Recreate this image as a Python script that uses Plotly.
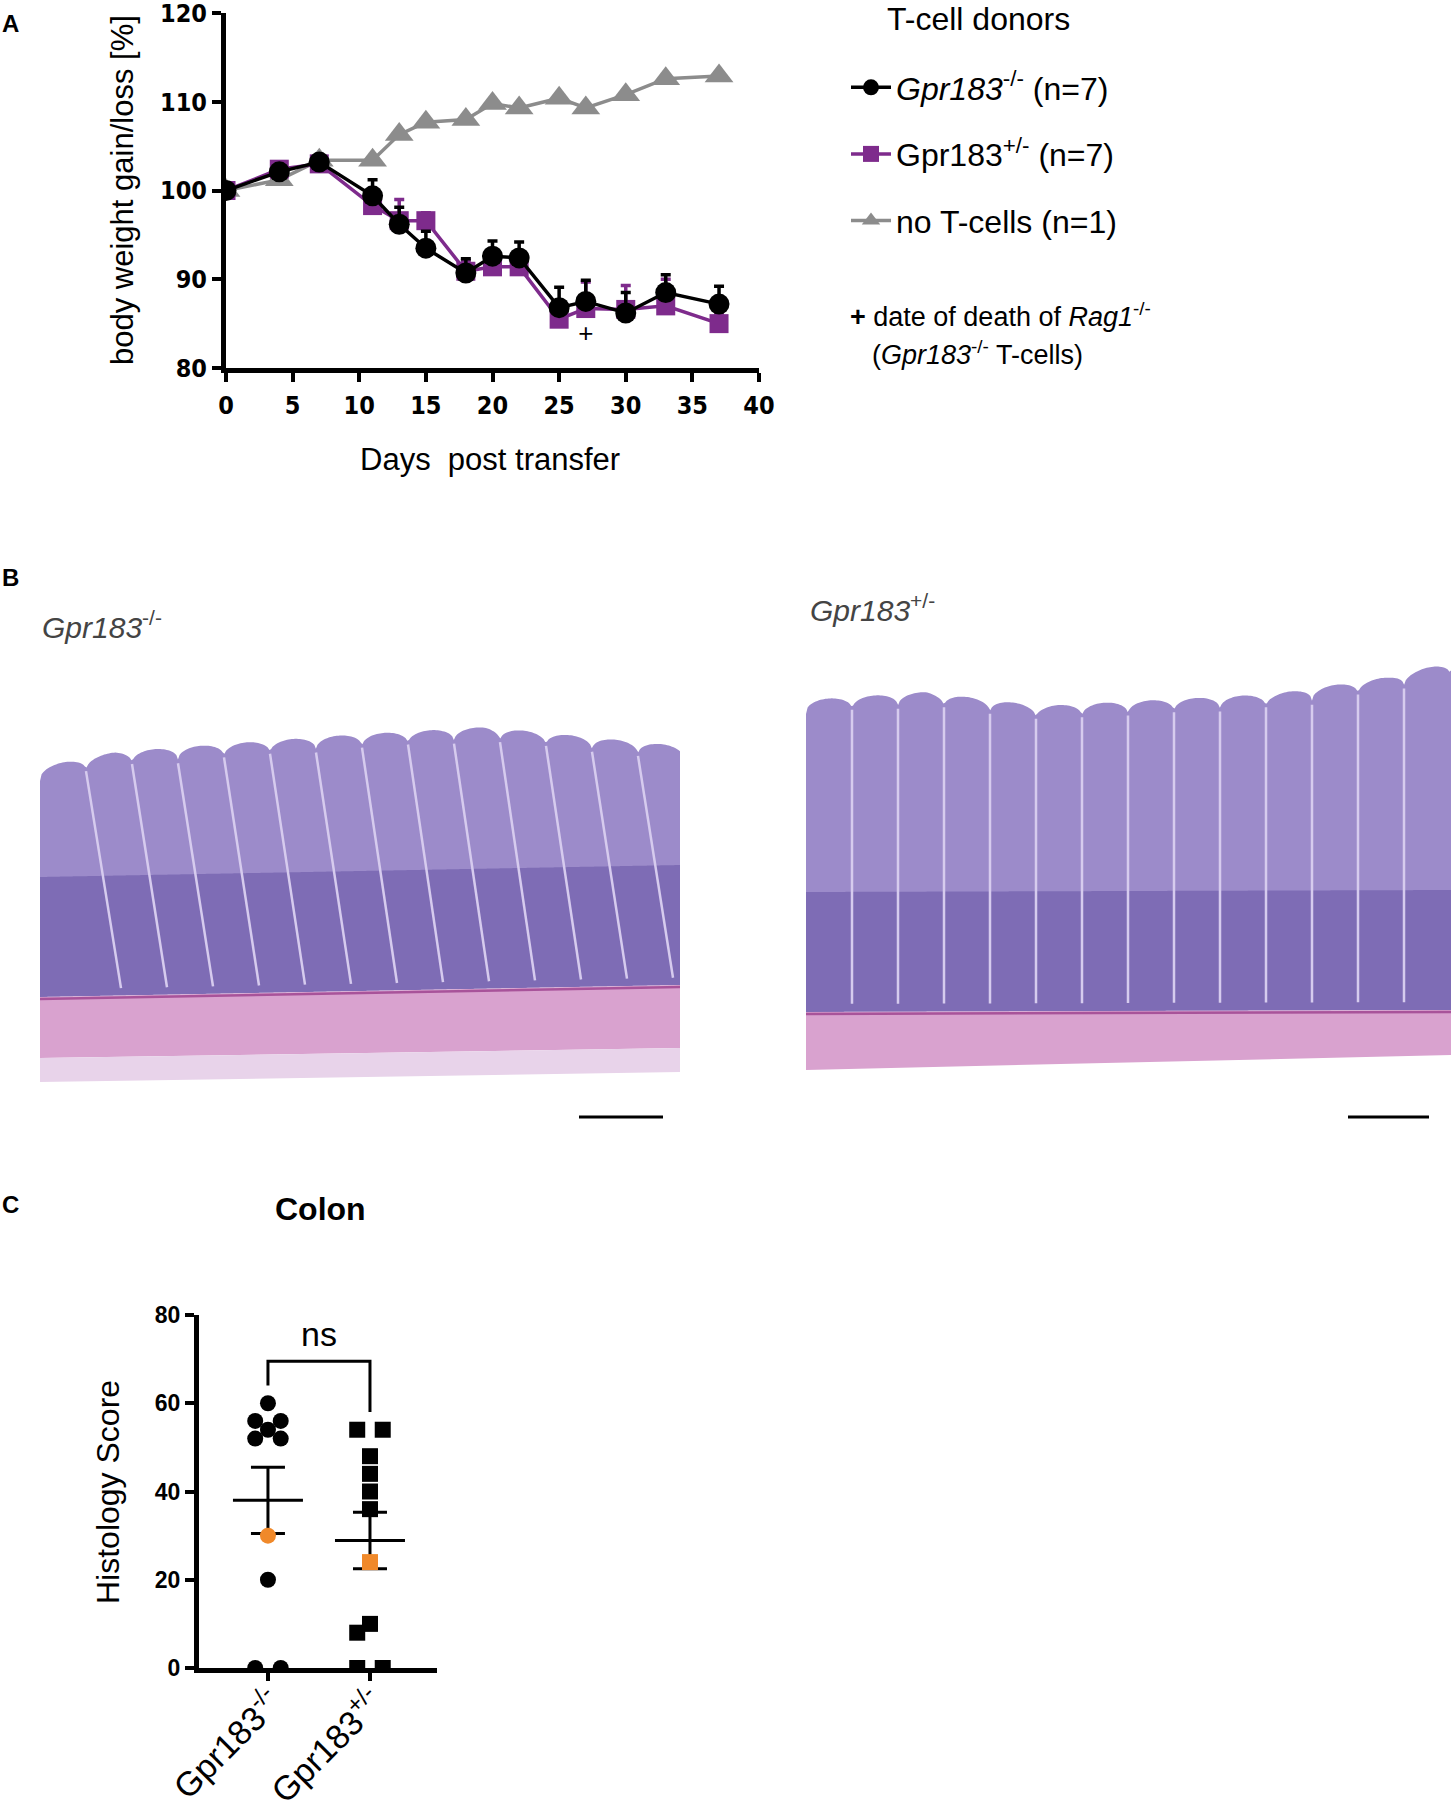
import numpy as np
import plotly.graph_objects as go

W, H = 1451, 1813
FONT = "Liberation Sans, Arial, Helvetica, sans-serif"
NARROW = "Liberation Sans Narrow, DejaVu Sans Condensed, Arial Narrow, sans-serif"

# ---- panel A: body weight after T-cell transfer (% of day 0)
days = [0, 4, 7, 11, 13, 15, 18, 20, 22, 25, 27, 30, 33, 37]
ko_mean = [100, 102.1, 103.2, 99.4, 96.2, 93.5, 90.7, 92.6, 92.4, 86.8, 87.5, 86.2, 88.5, 87.2]
ko_sem = [0.3, 0.5, 0.4, 1.8, 1.9, 1.9, 1.6, 1.7, 1.8, 2.3, 2.4, 2.3, 2.0, 2.0]
het_mean = [100, 102.4, 103.0, 98.3, 96.6, 96.6, 90.9, 91.4, 91.4, 85.5, 86.7, 86.6, 87.0, 85.0]
het_sem = [0.3, 0.5, 0.4, 1.3, 2.4, 0.9, 1.2, 1.4, 1.4, 1.8, 3.0, 2.7, 3.0, 1.2]
none_mean = [100, 101.2, 103.4, 103.4, 106.3, 107.7, 108.0, 109.8, 109.3, 110.4, 109.3, 110.8, 112.6, 112.9]
death_days = [27]

# ---- panel C: colon histology scores
group_labels = ["Gpr183<sup>-/-</sup>", "Gpr183<sup>+/-</sup>"]
ko_score = [60, 56, 56, 54, 52, 52, 30, 20, 0, 0]
het_score = [54, 54, 48, 44, 40, 36, 24, 10, 8, 0, 0]
ko_marked = [30]
het_marked = [24]

BLACK = "#000000"
PURPLE = "#7e2b8c"
GREY = "#8c8c8c"
ORANGE = "#f0892a"


def px(x):
    return x / W


def py(y):
    return 1 - y / H


def swarm(values, step=0.125, ypx=4.4, xpx=102, d=15):
    # simple beeswarm: pairs of equal values go either side of the centre
    order = sorted(range(len(values)), key=lambda i: -values[i])
    placed = []
    off = [0.0] * len(values)
    for i in order:
        v = values[i]
        ks = [-1, 1, -2, 2, -3, 3] if values.count(v) > 1 else [0, -1, 1, -2, 2, -3, 3]
        for k in ks:
            if all(((k - kk) * step * xpx) ** 2 + ((v - vv) * ypx) ** 2 >= d * d for kk, vv in placed):
                break
        placed.append((k, v))
        off[i] = k * step
    return off


fig = go.Figure()

# panel A traces (drawn grey -> purple -> black so black sits on top)
fig.add_trace(go.Scatter(x=days, y=none_mean, mode="lines+markers", name="no T-cells (n=1)",
                         line=dict(color=GREY, width=3.5),
                         marker=dict(symbol="triangle-up", size=25, color=GREY),
                         legendrank=3, legendgroup="none", xaxis="x", yaxis="y"))
fig.add_trace(go.Scatter(x=days, y=het_mean, mode="lines+markers", name="Gpr183<sup>+/-</sup> (n=7)",
                         line=dict(color=PURPLE, width=3.5),
                         marker=dict(symbol="square", size=19, color=PURPLE),
                         error_y=dict(type="data", array=het_sem, arrayminus=[0] * len(days),
                                      color=PURPLE, thickness=3.5, width=5),
                         legendrank=2, legendgroup="het", xaxis="x", yaxis="y"))
fig.add_trace(go.Scatter(x=days, y=ko_mean, mode="lines+markers", name="<i>Gpr183</i><sup>-/-</sup> (n=7)",
                         line=dict(color=BLACK, width=3.5),
                         marker=dict(symbol="circle", size=21, color=BLACK),
                         error_y=dict(type="data", array=ko_sem, arrayminus=[0] * len(days),
                                      color=BLACK, thickness=3.5, width=5),
                         legendrank=1, legendgroup="ko", xaxis="x", yaxis="y"))
death_y = [min(ko_mean[days.index(d)], het_mean[days.index(d)]) - 3 for d in death_days]
fig.add_trace(go.Scatter(x=death_days, y=death_y, mode="text", text=["+"] * len(death_days),
                         textfont=dict(size=26, color=BLACK, family=FONT), showlegend=False,
                         xaxis="x", yaxis="y"))

# panel C traces
for gi, (scores, marked, sym) in enumerate([(ko_score, ko_marked, "circle"),
                                            (het_score, het_marked, "square")]):
    off = swarm(scores)
    arr = np.array(scores, dtype=float)
    mean = arr.mean()
    sem = arr.std(ddof=1) / np.sqrt(len(arr))
    fig.add_trace(go.Scatter(x=[gi], y=[mean], mode="markers", showlegend=False,
                             marker=dict(symbol="line-ew", size=50, line=dict(width=3, color=BLACK)),
                             error_y=dict(type="data", array=[sem], color=BLACK, thickness=3, width=17),
                             xaxis="x2", yaxis="y2"))
    xs = [gi + o for o, v in zip(off, scores) if v not in marked]
    ys = [v for v in scores if v not in marked]
    fig.add_trace(go.Scatter(x=xs, y=ys, mode="markers", showlegend=False,
                             marker=dict(symbol=sym, size=16, color=BLACK),
                             xaxis="x2", yaxis="y2"))
    xs = [gi + o for o, v in zip(off, scores) if v in marked]
    ys = [v for v in scores if v in marked]
    fig.add_trace(go.Scatter(x=xs, y=ys, mode="markers", showlegend=False,
                             marker=dict(symbol=sym, size=16, color=ORANGE),
                             xaxis="x2", yaxis="y2"))

top = max(max(ko_score), max(het_score)) + 9.5
fig.add_trace(go.Scatter(x=[0, 0, 1, 1], y=[max(ko_score) + 4, top, top, max(het_score) + 4],
                         mode="lines", line=dict(color=BLACK, width=3), showlegend=False,
                         xaxis="x2", yaxis="y2"))
fig.add_annotation(x=0.5, y=top + 1.5, xref="x2", yref="y2", text="ns", showarrow=False,
                   yanchor="bottom", font=dict(size=34, color=BLACK, family=FONT))

# ---- panel B: histology sections sketched as shapes
shapes = []


def tissue(x0, x1, top_x, top_y, muc_bot, mus_bot, lean, ser_bot=None):
    period = 46
    xs = np.linspace(x0, x1, 400)
    base = np.interp(xs, top_x, top_y)
    bump = 14 * np.abs(np.sin(np.pi * (xs - x0) / period)) ** 0.35
    ytop = base + 14 - bump
    mb = np.linspace(muc_bot[0], muc_bot[1], 400)
    path = "M " + " L ".join(f"{px(a):.5f},{py(b):.5f}" for a, b in zip(xs, ytop))
    path += " L " + " L ".join(f"{px(a):.5f},{py(b):.5f}" for a, b in zip(xs[::-1], mb[::-1])) + " Z"
    shapes.append(dict(type="path", path=path, xref="paper", yref="paper",
                       fillcolor="#9c8bca", line=dict(width=0), layer="below"))
    # darker crypt bases
    path = "M " + " L ".join(f"{px(a):.5f},{py(b - 120):.5f}" for a, b in zip(xs, mb))
    path += " L " + " L ".join(f"{px(a):.5f},{py(b):.5f}" for a, b in zip(xs[::-1], mb[::-1])) + " Z"
    shapes.append(dict(type="path", path=path, xref="paper", yref="paper",
                       fillcolor="#5a479c", opacity=0.45, line=dict(width=0), layer="below"))
    # crypt borders
    for cx in np.arange(x0 + period, x1 - 10, period):
        t = float(np.interp(cx, xs, ytop))
        b = float(np.interp(cx, xs, mb)) - 8
        x_end = min(cx + lean, x1 - 2)
        shapes.append(dict(type="line", xref="paper", yref="paper",
                           x0=px(cx), y0=py(t + 4), x1=px(x_end), y1=py(b),
                           line=dict(color="#d6cbee", width=2.5), layer="below"))
    # muscle layer
    path = (f"M {px(x0)},{py(muc_bot[0])} L {px(x1)},{py(muc_bot[1])} "
            f"L {px(x1)},{py(mus_bot[1])} L {px(x0)},{py(mus_bot[0])} Z")
    shapes.append(dict(type="path", path=path, xref="paper", yref="paper",
                       fillcolor="#d9a2cf", line=dict(width=0), layer="below"))
    shapes.append(dict(type="line", xref="paper", yref="paper", x0=px(x0), y0=py(muc_bot[0] + 2),
                       x1=px(x1), y1=py(muc_bot[1] + 2), line=dict(color="#a8539a", width=2.5),
                       layer="below"))
    if ser_bot is not None:
        path = (f"M {px(x0)},{py(mus_bot[0])} L {px(x1)},{py(mus_bot[1])} "
                f"L {px(x1)},{py(ser_bot[1])} L {px(x0)},{py(ser_bot[0])} Z")
        shapes.append(dict(type="path", path=path, xref="paper", yref="paper",
                           fillcolor="#e8d3ea", line=dict(width=0), layer="below"))


tissue(40, 680, [40, 116, 347, 486, 680], [767, 752, 735, 727, 746],
       (997, 985), (1058, 1048), 35, ser_bot=(1082, 1072))
tissue(806, 1451, [806, 926, 1041, 1157, 1273, 1389, 1451], [700, 692, 706, 700, 694, 677, 662],
       (1012, 1010), (1070, 1055), 0)

# scale bars
for a, b in [(579, 663), (1348, 1429)]:
    shapes.append(dict(type="line", xref="paper", yref="paper", x0=px(a), x1=px(b),
                       y0=py(1117), y1=py(1117), line=dict(color=BLACK, width=3)))

fig.update_layout(shapes=shapes)


# ---- text
def note(x, y, text, size, xanchor="left", yanchor="middle", angle=0, color=BLACK, family=FONT, weight="normal"):
    fig.add_annotation(x=px(x), y=py(y), xref="paper", yref="paper", text=text, showarrow=False,
                       xanchor=xanchor, yanchor=yanchor, textangle=angle,
                       font=dict(size=size, color=color, family=family, weight=weight))


note(0, 24, "A", 24, weight="bold")
note(0, 578, "B", 24, weight="bold")
note(0, 1204, "C", 24, weight="bold")

note(490, 459, "Days  post transfer", 31, xanchor="center")
note(122, 190, "body weight gain/loss [%]", 31, xanchor="center", angle=-90)
note(978, 19, "T-cell donors", 32, xanchor="center")
note(848, 315, "<b>+</b> date of death of <i>Rag1</i><sup>-/-</sup>", 27)
note(870, 353, "(<i>Gpr183</i><sup>-/-</sup> T-cells)", 27)

note(40, 625, "<i>Gpr183</i><sup>-/-</sup>", 30, color="#444444")
note(808, 608, "<i>Gpr183</i><sup>+/-</sup>", 30, color="#444444")

note(320, 1209, "Colon", 32, xanchor="center", weight="bold")
note(108, 1492, "Histology Score", 32, xanchor="center", angle=-90)

axis_common = dict(showline=True, linecolor=BLACK, linewidth=5, ticks="outside", tickcolor=BLACK,
                   tickwidth=4, showgrid=False, zeroline=False, automargin=False,
                   ticklabeloverflow="allow")

fig.update_layout(
    width=W, height=H, margin=dict(l=0, r=0, t=0, b=0, autoexpand=False),
    paper_bgcolor="white", plot_bgcolor="rgba(0,0,0,0)",
    font=dict(family=FONT, color=BLACK),
    xaxis=dict(domain=[px(226), px(759)], range=[0, 40], tickvals=list(range(0, 41, 5)),
               ticklen=9, anchor="y", ticklabelstandoff=2,
               tickfont=dict(size=25, family=NARROW, weight="bold"), **axis_common),
    yaxis=dict(domain=[py(368), py(13)], range=[80, 120], tickvals=[80, 90, 100, 110, 120],
               ticklen=9, anchor="x",
               tickfont=dict(size=25, family=NARROW, weight="bold"), **axis_common),
    xaxis2=dict(domain=[px(199), px(437)], range=[-0.676, 1.657], tickvals=[0, 1],
                ticktext=group_labels, tickangle=-45, ticklen=8, anchor="y2",
                ticklabelstandoff=-12, ticklabelshift=4,
                tickfont=dict(size=34, family=FONT), **axis_common),
    yaxis2=dict(domain=[py(1668), py(1315)], range=[0, 80], tickvals=[0, 20, 40, 60, 80],
                ticklen=9, anchor="x2",
                tickfont=dict(size=23, family=FONT, weight="bold"), **axis_common),
    legend=dict(x=px(846), y=py(60), xanchor="left", yanchor="top", traceorder="grouped",
                tracegroupgap=22, font=dict(size=32, family=FONT, color=BLACK),
                bgcolor="rgba(0,0,0,0)", itemwidth=40),
    showlegend=True,
)

# the page is photographed from its top-left corner, so drop the default body margin
fig.write_html("out.html", config={"displayModeBar": False},
               post_script="document.body.style.margin = '0px';")
